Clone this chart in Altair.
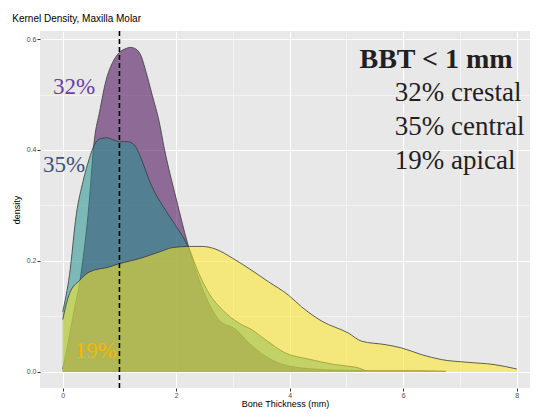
import altair as alt
import pandas as pd

# ---- density curves ----
crestal_x = [0, 0.1, 0.2, 0.3, 0.45, 0.56, 0.65, 0.77, 0.88, 1.0, 1.09, 1.2, 1.29, 1.38,
             1.47, 1.58, 1.7, 1.79, 2.0, 2.2, 2.45, 2.75, 3.05, 3.3, 3.5, 3.8, 4.2, 4.8,
             5.5, 6.2, 6.75]
crestal_y = [0.005, 0.055, 0.11, 0.162, 0.287, 0.42, 0.469, 0.528, 0.558, 0.576, 0.582,
             0.585, 0.582, 0.57, 0.54, 0.498, 0.451, 0.403, 0.312, 0.232, 0.153, 0.094,
             0.076, 0.05, 0.033, 0.016, 0.007, 0.003, 0.002, 0.002, 0.001]

central_x = [0, 0.12, 0.24, 0.36, 0.47, 0.56, 0.65, 0.77, 0.9, 1.0, 1.15, 1.29, 1.4,
             1.53, 1.82, 2.0, 2.2, 2.4, 2.58, 2.81, 3.11, 3.33, 3.57, 3.92, 4.33, 4.8,
             5.03, 5.21, 5.33]
central_y = [0.108, 0.175, 0.284, 0.344, 0.385, 0.41, 0.42, 0.422, 0.418, 0.415, 0.415,
             0.405, 0.38, 0.344, 0.29, 0.262, 0.228, 0.177, 0.141, 0.112, 0.0875, 0.076,
             0.058, 0.034, 0.023, 0.013, 0.010, 0.007, 0.002]

apical_x = [0, 0.12, 0.3, 0.47, 0.82, 1.0, 1.35, 1.7, 1.94, 2.23, 2.46, 2.7, 2.99, 3.3,
            3.63, 3.98, 4.21, 4.57, 5.03, 5.27, 5.68, 5.97, 6.32, 6.67, 7.14, 7.6, 8.0]
apical_y = [0.094, 0.141, 0.165, 0.18, 0.189, 0.195, 0.204, 0.216, 0.224, 0.226, 0.226,
            0.221, 0.205, 0.185, 0.162, 0.138, 0.117, 0.091, 0.070, 0.055, 0.049, 0.043,
            0.031, 0.022, 0.017, 0.013, 0.005]

series_names = ["crestal", "central", "apical"]
series_colors = ["#440154", "#21908C", "#FDE725"]

x_ticks = [0, 1, 2, 3, 4, 5, 6, 7, 8]
y_ticks = [0.0, 0.1, 0.2, 0.3, 0.4, 0.5, 0.6]

threshold = [1.0]

frames = [
    pd.DataFrame({"x": crestal_x, "y": crestal_y}),
    pd.DataFrame({"x": central_x, "y": central_y}),
    pd.DataFrame({"x": apical_x, "y": apical_y}),
]

xscale = alt.Scale(domain=[-0.4, 8.234], nice=False, zero=False)
yscale = alt.Scale(domain=[-0.0293, 0.6146], nice=False, zero=False)

xaxis = alt.Axis(
    values=x_ticks,
    title="Bone Thickness (mm)",
    labelExpr="datum.value % 2 === 0 ? datum.label : ''",
    gridWidth={"condition": {"test": "datum.value % 2 === 0", "value": 1.1}, "value": 0.5},
    tickOpacity={"condition": {"test": "datum.value % 2 === 0", "value": 1}, "value": 0},
    titlePadding=1,
    labelPadding=0,
)
yaxis = alt.Axis(
    values=y_ticks,
    title="density",
    format=".1f",
    labelExpr="round(datum.value * 10) % 2 === 0 ? datum.label : ''",
    gridWidth={"condition": {"test": "round(datum.value * 10) % 2 === 0", "value": 1.1}, "value": 0.5},
    tickOpacity={"condition": {"test": "round(datum.value * 10) % 2 === 0", "value": 1}, "value": 0},
    titlePadding=5,
    labelPadding=1,
)

X = alt.X("x:Q", scale=xscale, axis=xaxis)
Y = alt.Y("y:Q", scale=yscale, axis=yaxis, stack=None)

layers = []
for df, col in zip(frames, series_colors):
    layers.append(
        alt.Chart(df).mark_area(interpolate="monotone", color=col, opacity=0.55).encode(x=X, y=Y)
    )
    layers.append(
        alt.Chart(df).mark_line(interpolate="monotone", color="#3a3a3a", strokeWidth=0.8).encode(x=X, y=Y)
    )

rule = alt.Chart(pd.DataFrame({"x": threshold})).mark_rule(
    color="black", strokeDash=[5, 3], strokeWidth=1.6
).encode(x=X)
layers.append(rule)


def label(text, x, y, size, color, weight="normal"):
    return alt.Chart(pd.DataFrame({"x": [x], "y": [y], "t": [text]})).mark_text(
        align="left", baseline="alphabetic", font="Liberation Serif",
        fontSize=size, color=color, fontWeight=weight,
    ).encode(x=X, y=Y, text="t:N")


layers += [
    label("32%", -0.17, 0.5006, 23, "#6E3FA3"),
    label("35%", -0.347, 0.361, 23, "#3D5478"),
    label("19%", 0.21, 0.025, 23, "#F7B500"),
    label("BBT < 1 mm", 5.23, 0.548, 28, "#231F20", "bold"),
    label("32% crestal", 5.85, 0.4887, 27, "#231F20"),
    label("35% central", 5.85, 0.4263, 27, "#231F20"),
    label("19% apical", 5.85, 0.3656, 27, "#231F20"),
]

chart = alt.layer(*layers).properties(
    width=490,
    height=357,
    autosize=alt.AutoSizeParams(type="none"),
    padding={"left": 32, "top": 23, "right": 0, "bottom": 22},
    title=alt.TitleParams(
        "Kernel Density, Maxilla Molar", anchor="start", fontSize=10,
        font="Liberation Sans", fontWeight="normal", color="black", offset=6,
    ),
).configure_view(
    fill="#E8E8E8", strokeWidth=0
).configure_axis(
    domain=False, gridColor="white", labelColor="#4D4D4D", tickColor="#333333",
    labelFont="Liberation Sans", titleFont="Liberation Sans", labelFontSize=7,
    titleFontSize=9, titleFontWeight="normal", titleColor="black", tickSize=3,
)

chart.save("out.html", embed_options={"renderer": "svg", "actions": False})
